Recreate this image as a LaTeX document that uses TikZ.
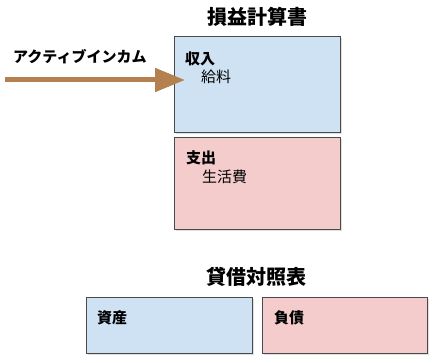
\documentclass[tikz,border=0pt]{standalone}
\usepackage{fontspec}
\usepackage{tikz}
\usetikzlibrary{arrows.meta, shadows}
\newfontfamily\cjk{Noto Sans CJK JP}
\definecolor{incomeblue}{HTML}{CFE2F3}
\definecolor{costpink}{HTML}{F4CCCC}
\definecolor{framegray}{HTML}{4A4A4A}
\definecolor{flowbrown}{HTML}{B5804F}

\tikzset{
  ledger/.style={draw=framegray, line width=1pt, anchor=north west, inner sep=0pt,
    drop shadow={shadow xshift=1.2pt, shadow yshift=-1.2pt, opacity=0.25}},
  heading/.style={font=\cjk\bfseries\fontsize{20}{22}\selectfont, inner sep=0pt},
  caption/.style={font=\cjk\bfseries\fontsize{15}{17}\selectfont, anchor=west, inner sep=0pt},
  item/.style={font=\cjk\fontsize{15}{17}\selectfont, anchor=west, inner sep=0pt},
}

\begin{document}
\begin{tikzpicture}[x=1pt, y=-1pt]
  \useasboundingbox[fill=white] (0,0) rectangle (439,363);
  % income statement
  \node[heading] (pltitle) at (257,17) {損益計算書};
  \node[ledger, fill=incomeblue, minimum width=166pt, minimum height=96pt] (income) at (174,36) {};
  \node[ledger, fill=costpink, minimum width=166pt, minimum height=92pt] (expense) at (174,137) {};
  \node[caption] (inclabel) at (185,59) {収入};
  \node[item] (salary) at (201,77) {給料};
  \node[caption] (explabel) at (186,158) {支出};
  \node[item] (living) at (202,177) {生活費};
  % flow into income
  \node[caption] (active) at (13,57) {アクティブインカム};
  \coordinate (src) at (5,80);
  \coordinate (tip) at (185,80);
  \draw[flowbrown, line width=5pt, -{Triangle[length=30pt, width=23pt]}] (src) -- (tip);
  % balance sheet
  \node[heading] (bstitle) at (256,277) {貸借対照表};
  \node[ledger, fill=incomeblue, minimum width=166pt, minimum height=56pt] (assets) at (86,297) {};
  \node[ledger, fill=costpink, minimum width=165pt, minimum height=56pt] (debts) at (262,297) {};
  \node[caption] (assetlabel) at (97,318) {資産};
  \node[caption] (debtlabel) at (274,318) {負債};
\end{tikzpicture}
\end{document}
